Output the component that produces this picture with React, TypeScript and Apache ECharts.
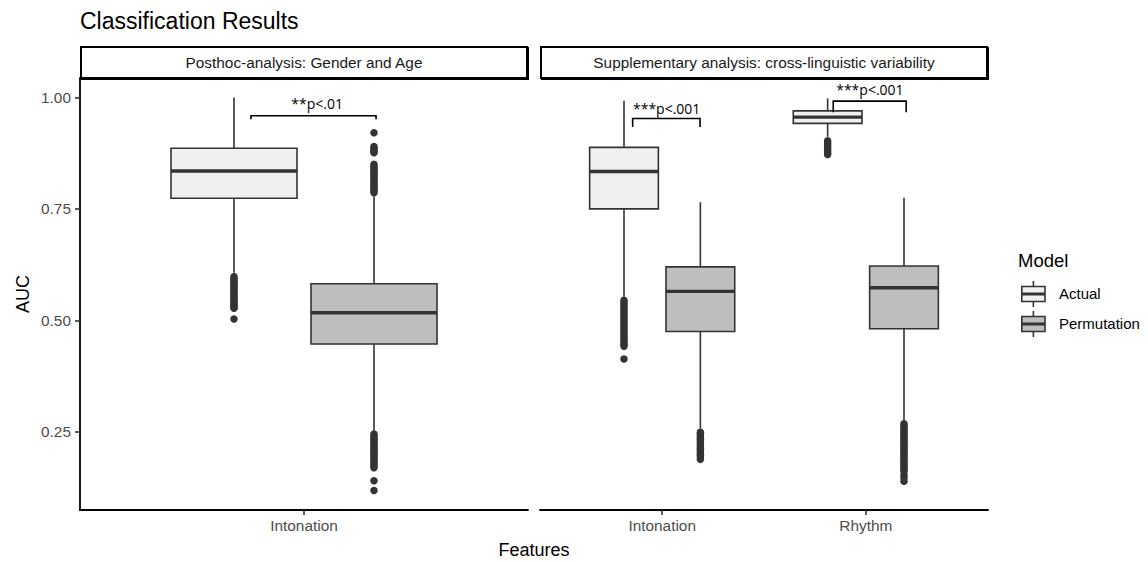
import React, { useEffect, useRef } from "react";
import * as echarts from "echarts";

const chartTitle = "Classification Results";
const panelTitles = [
  "Posthoc-analysis: Gender and Age",
  "Supplementary analysis: cross-linguistic variability",
];
const featuresPosthoc = ["Intonation"];
const featuresSupp = ["Intonation", "Rhythm"];
const models = ["Actual", "Permutation"];
const yTicks = [0.25, 0.5, 0.75, 1.0];

// [lower whisker, Q1, median, Q3, upper whisker] for each feature
const posthocActual = [[0.607, 0.774, 0.835, 0.886, 1.0]];
const posthocPermutation = [[0.251, 0.447, 0.517, 0.582, 0.778]];
const suppActual = [
  [0.553, 0.75, 0.834, 0.888, 0.993],
  [0.912, 0.942, 0.956, 0.97, 0.998],
];
const suppPermutation = [
  [0.258, 0.475, 0.565, 0.62, 0.765],
  [0.275, 0.481, 0.573, 0.622, 0.775],
];

// outliers for each feature
const posthocActualOutliers = [
  [0.598, 0.594, 0.59, 0.586, 0.582, 0.578, 0.574, 0.57, 0.566, 0.562, 0.558, 0.554, 0.55, 0.546, 0.542, 0.538, 0.534, 0.53, 0.527, 0.503],
];
const posthocPermutationOutliers = [
  [0.921, 0.89, 0.886, 0.882, 0.879, 0.876, 0.85, 0.846, 0.842, 0.838, 0.834, 0.83, 0.826, 0.822, 0.818, 0.814, 0.81, 0.806, 0.802, 0.798, 0.794, 0.79, 0.786,
   0.245, 0.241, 0.237, 0.233, 0.229, 0.225, 0.221, 0.217, 0.213, 0.209, 0.205, 0.201, 0.197, 0.193, 0.189, 0.185, 0.181, 0.177, 0.173, 0.169, 0.14, 0.118],
];
const suppActualOutliers = [
  [0.545, 0.54, 0.535, 0.53, 0.525, 0.52, 0.515, 0.51, 0.505, 0.5, 0.495, 0.49, 0.485, 0.48, 0.475, 0.47, 0.465, 0.46, 0.455, 0.45, 0.446, 0.442, 0.413],
  [0.903, 0.899, 0.895, 0.891, 0.887, 0.883, 0.879, 0.875, 0.872],
];
const suppPermutationOutliers = [
  [0.249, 0.245, 0.241, 0.237, 0.233, 0.229, 0.225, 0.221, 0.217, 0.213, 0.209, 0.205, 0.201, 0.197, 0.193, 0.188],
  [0.268, 0.264, 0.26, 0.256, 0.252, 0.248, 0.244, 0.24, 0.236, 0.232, 0.228, 0.224, 0.22, 0.216, 0.212, 0.208, 0.204, 0.2, 0.196, 0.192, 0.188, 0.184, 0.18, 0.176, 0.172, 0.168, 0.164, 0.16, 0.152, 0.146, 0.139],
];

// significance brackets: [from x, to x, bar y, tick end y, label x, label y]
const posthocBrackets = [[0.858, 1.193, 0.959, 0.951, 1.035, 0.987]];
const posthocBracketLabels = ["**p<.01"];
const suppBrackets = [
  [0.855, 1.186, 0.953, 0.934, 1.022, 0.976],
  [1.84, 2.198, 0.992, 0.967, 2.02, 1.017],
];
const suppBracketLabels = ["***p<.001", "***p<.001"];

const Y_MIN = 0.0743;
const Y_MAX = 1.0438;
const BOX_W = 0.3375;
const DODGE = 0.1875;
const FONT = "Liberation Sans, Arial, Helvetica, sans-serif";
const DARK = "#333333";
const FILL_ACTUAL = "#F0F0F0";
const FILL_PERM = "#BEBEBE";

const makeBoxRender = (fill: string) => (params: any, api: any) => {
  const x = api.value(0);
  const lo = api.coord([x, api.value(1)]);
  const q1 = api.coord([x, api.value(2)]);
  const md = api.coord([x, api.value(3)]);
  const q3 = api.coord([x, api.value(4)]);
  const hi = api.coord([x, api.value(5)]);
  const w = api.size([BOX_W, 0])[0];
  const cx = lo[0];
  return {
    type: "group",
    children: [
      { type: "line", shape: { x1: cx, y1: hi[1], x2: cx, y2: q3[1] }, style: { stroke: DARK, lineWidth: 1.6 } },
      { type: "line", shape: { x1: cx, y1: q1[1], x2: cx, y2: lo[1] }, style: { stroke: DARK, lineWidth: 1.6 } },
      { type: "rect", shape: { x: cx - w / 2, y: q3[1], width: w, height: q1[1] - q3[1] }, style: { fill, stroke: DARK, lineWidth: 1.6 } },
      { type: "line", shape: { x1: cx - w / 2, y1: md[1], x2: cx + w / 2, y2: md[1] }, style: { stroke: DARK, lineWidth: 3.4 } },
    ],
  };
};

const makeBracketRender = (labels: string[]) => (params: any, api: any) => {
  const a = api.coord([api.value(0), api.value(2)]);
  const b = api.coord([api.value(1), api.value(2)]);
  const aT = api.coord([api.value(0), api.value(3)]);
  const bT = api.coord([api.value(1), api.value(3)]);
  const t = api.coord([api.value(4), api.value(5)]);
  return {
    type: "group",
    children: [
      { type: "polyline", shape: { points: [aT, a, b, bT] }, style: { stroke: "#000", lineWidth: 1.6, fill: null } },
      {
        type: "text",
        x: t[0],
        y: t[1],
        style: {
          text: labels[params.dataIndex],
          fill: "#000",
          fontSize: 14,
          fontFamily: "Open Sans, DejaVu Sans, sans-serif",
          align: "center",
          verticalAlign: "middle",
          textAlign: "center",
          textVerticalAlign: "middle",
        },
      },
    ],
  };
};

const boxData = (stats: number[][], offset: number) => stats.map((s, i) => [i + 1 + offset, ...s]);
const outlierData = (lists: number[][], offset: number) =>
  lists.flatMap((vals, i) => vals.map((v) => [i + 1 + offset, v]));

const yAxisBase = (gridIndex: number, show: boolean) => ({
  type: "value",
  gridIndex,
  min: Y_MIN,
  max: Y_MAX,
  show,
  axisLine: { show, onZero: false, lineStyle: { color: "#000", width: 1.8 } },
  axisTick: { show, length: 5, customValues: yTicks, lineStyle: { color: DARK, width: 1.6 } },
  axisLabel: {
    show,
    customValues: yTicks,
    formatter: (v: number) => v.toFixed(2),
    color: "#4D4D4D",
    fontSize: 15.4,
    fontFamily: FONT,
    margin: 9,
  },
  splitLine: { show: false },
});

const xAxisBase = (gridIndex: number, cats: string[]) => {
  const ticks = cats.map((_, i) => i + 1);
  return {
    type: "value",
    gridIndex,
    min: 0.4,
    max: cats.length + 0.6,
    axisLine: { show: true, onZero: false, lineStyle: { color: "#000", width: 1.8 } },
    axisTick: { show: true, length: 5, customValues: ticks, lineStyle: { color: DARK, width: 1.6 } },
    axisLabel: {
      customValues: ticks,
      formatter: (v: number) => cats[Math.round(v) - 1] ?? "",
      color: "#4D4D4D",
      fontSize: 15.4,
      fontFamily: FONT,
      margin: 8,
    },
    splitLine: { show: false },
  };
};

const strip = (x: number, w: number, text: string) => ({
  type: "group",
  children: [
    { type: "rect", shape: { x, y: 47, width: w, height: 31 }, style: { fill: "#fff", stroke: "#000", lineWidth: 2 } },
    { type: "line", shape: { x1: x + w + 1, y1: 47, x2: x + w + 1, y2: 79 }, style: { stroke: "#000", lineWidth: 2 } },
    { type: "line", shape: { x1: x, y1: 79, x2: x + w + 2, y2: 79 }, style: { stroke: "#000", lineWidth: 2 } },
    {
      type: "text",
      x: x + w / 2,
      y: 62.5,
      style: {
        text,
        fill: "#1A1A1A",
        fontSize: 15.4,
        fontFamily: FONT,
        align: "center",
        verticalAlign: "middle",
        textAlign: "center",
        textVerticalAlign: "middle",
      },
    },
  ],
});

const legendKey = (y: number, fill: string, label: string) => ({
  type: "group",
  children: [
    { type: "line", shape: { x1: 1033.4, y1: y - 13, x2: 1033.4, y2: y + 13 }, style: { stroke: DARK, lineWidth: 1.6 } },
    { type: "rect", shape: { x: 1021.8, y: y - 7.5, width: 23.2, height: 15 }, style: { fill, stroke: DARK, lineWidth: 1.6 } },
    { type: "line", shape: { x1: 1021.8, y1: y, x2: 1045, y2: y }, style: { stroke: DARK, lineWidth: 3 } },
    {
      type: "text",
      x: 1059,
      y: y - 1,
      style: {
        text: label,
        fill: "#000",
        fontSize: 15,
        fontFamily: FONT,
        align: "left",
        verticalAlign: "middle",
        textAlign: "left",
        textVerticalAlign: "middle",
      },
    },
  ],
});

export default function App() {
  const ref = useRef<HTMLDivElement>(null);
  useEffect(() => {
    document.body.style.margin = "0";
    if (!ref.current) return;
    const chart = echarts.init(ref.current, undefined, { renderer: "svg" });
    const option: any = {
      animation: false,
      backgroundColor: "#fff",
      title: {
        text: chartTitle,
        left: 80,
        top: 9,
        padding: 0,
        textStyle: { fontSize: 23, fontWeight: "normal", color: "#000", fontFamily: FONT },
      },
      grid: [
        { left: 80, top: 78, width: 448, height: 432, containLabel: false, outerBoundsMode: "none" },
        { left: 540, top: 78, width: 448, height: 432, containLabel: false, outerBoundsMode: "none" },
      ],
      xAxis: [xAxisBase(0, featuresPosthoc), xAxisBase(1, featuresSupp)],
      yAxis: [
        {
          ...yAxisBase(0, true),
          name: "AUC",
          nameLocation: "middle",
          nameGap: 48,
          nameTextStyle: { fontSize: 18, color: "#000", fontFamily: FONT },
        },
        yAxisBase(1, false),
      ],
      series: [
        {
          type: "custom",
          name: models[0],
          xAxisIndex: 0,
          yAxisIndex: 0,
          renderItem: makeBoxRender(FILL_ACTUAL),
          encode: { x: 0, y: [1, 2, 3, 4, 5] },
          data: boxData(posthocActual, -DODGE),
          z: 2,
        },
        {
          type: "custom",
          name: models[1],
          xAxisIndex: 0,
          yAxisIndex: 0,
          renderItem: makeBoxRender(FILL_PERM),
          encode: { x: 0, y: [1, 2, 3, 4, 5] },
          data: boxData(posthocPermutation, DODGE),
          z: 2,
        },
        {
          type: "custom",
          name: models[0],
          xAxisIndex: 1,
          yAxisIndex: 1,
          renderItem: makeBoxRender(FILL_ACTUAL),
          encode: { x: 0, y: [1, 2, 3, 4, 5] },
          data: boxData(suppActual, -DODGE),
          z: 2,
        },
        {
          type: "custom",
          name: models[1],
          xAxisIndex: 1,
          yAxisIndex: 1,
          renderItem: makeBoxRender(FILL_PERM),
          encode: { x: 0, y: [1, 2, 3, 4, 5] },
          data: boxData(suppPermutation, DODGE),
          z: 2,
        },
        {
          type: "scatter",
          xAxisIndex: 0,
          yAxisIndex: 0,
          symbolSize: 7.5,
          itemStyle: { color: DARK, opacity: 1 },
          data: [...outlierData(posthocActualOutliers, -DODGE), ...outlierData(posthocPermutationOutliers, DODGE)],
          z: 3,
        },
        {
          type: "scatter",
          xAxisIndex: 1,
          yAxisIndex: 1,
          symbolSize: 7.5,
          itemStyle: { color: DARK, opacity: 1 },
          data: [...outlierData(suppActualOutliers, -DODGE), ...outlierData(suppPermutationOutliers, DODGE)],
          z: 3,
        },
        {
          type: "custom",
          xAxisIndex: 0,
          yAxisIndex: 0,
          renderItem: makeBracketRender(posthocBracketLabels),
          encode: { x: [0, 1, 4], y: [2, 3, 5] },
          data: posthocBrackets,
          clip: false,
          z: 4,
        },
        {
          type: "custom",
          xAxisIndex: 1,
          yAxisIndex: 1,
          renderItem: makeBracketRender(suppBracketLabels),
          encode: { x: [0, 1, 4], y: [2, 3, 5] },
          data: suppBrackets,
          clip: false,
          z: 4,
        },
      ],
      graphic: [
        strip(81, 446, panelTitles[0]),
        strip(541, 446, panelTitles[1]),
        {
          type: "text",
          x: 534,
          y: 550,
          style: {
            text: "Features",
            fill: "#000",
            fontSize: 18,
            fontFamily: FONT,
            align: "center",
            verticalAlign: "middle",
            textAlign: "center",
            textVerticalAlign: "middle",
          },
        },
        {
          type: "text",
          x: 1018,
          y: 260,
          style: {
            text: "Model",
            fill: "#000",
            fontSize: 18.5,
            fontFamily: FONT,
            align: "left",
            verticalAlign: "middle",
            textAlign: "left",
            textVerticalAlign: "middle",
          },
        },
        legendKey(294, FILL_ACTUAL, models[0]),
        legendKey(324, FILL_PERM, models[1]),
      ],
    };
    chart.setOption(option);
    return () => chart.dispose();
  }, []);
  return <div ref={ref} style={{ width: 1148, height: 562 }} />;
}
